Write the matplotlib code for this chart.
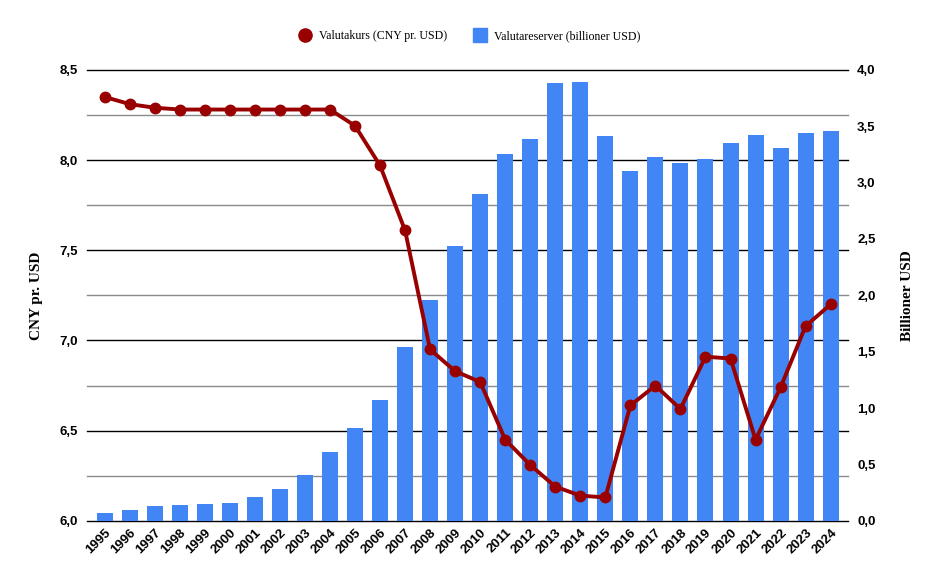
import matplotlib
matplotlib.use("Agg")
import matplotlib.pyplot as plt
from matplotlib.lines import Line2D
from matplotlib.ticker import FuncFormatter

years = [str(y) for y in range(1995, 2025)]
kurs = [8.35, 8.31, 8.29, 8.28, 8.28, 8.28, 8.28, 8.28, 8.28, 8.28,
        8.19, 7.97, 7.61, 6.95, 6.83, 6.77, 6.45, 6.31, 6.19, 6.14,
        6.13, 6.64, 6.75, 6.62, 6.91, 6.90, 6.45, 6.74, 7.08, 7.20]
reserver = [0.07, 0.10, 0.13, 0.14, 0.15, 0.16, 0.21, 0.28, 0.41, 0.61,
            0.82, 1.07, 1.54, 1.96, 2.44, 2.90, 3.25, 3.39, 3.88, 3.89,
            3.41, 3.10, 3.23, 3.17, 3.21, 3.35, 3.42, 3.31, 3.44, 3.46]

bar_col = "#4285F4"
line_col = "#990000"
serif = "Liberation Serif"
sans = "Liberation Sans"

fig = plt.figure(figsize=(9.4, 5.82), dpi=100)
ax_b = fig.add_axes([0.098, 0.105, 0.799, 0.775])
ax_l = ax_b.twinx()

x = list(range(len(years)))

# gridlines (on the back axis so bars cover them)
for k in range(11):
    col = "black" if k % 2 == 0 else "#8a8a8a"
    ax_b.axhline(0.4 * k, xmin=-0.007, xmax=1.007, color=col, lw=1.0,
                 clip_on=False, zorder=0)

ax_b.bar(x, reserver, width=0.64, color=bar_col, zorder=2)
ax_l.plot(x, kurs, color=line_col, lw=2.8, marker="o", markersize=7.5,
          zorder=3)

ax_b.set_xlim(-0.5, len(years) - 0.5)
ax_b.set_ylim(0, 4.0)
ax_l.set_ylim(6.0, 8.5)

comma = FuncFormatter(lambda v, p: f"{v:.1f}".replace(".", ","))

ax_b.yaxis.tick_right()
ax_b.yaxis.set_label_position("right")
ax_b.set_yticks([0, 0.5, 1.0, 1.5, 2.0, 2.5, 3.0, 3.5, 4.0])
ax_b.yaxis.set_major_formatter(comma)
ax_l.yaxis.tick_left()
ax_l.yaxis.set_label_position("left")
ax_l.set_yticks([6.0, 6.5, 7.0, 7.5, 8.0, 8.5])
ax_l.yaxis.set_major_formatter(comma)

ax_b.tick_params(axis="y", length=0, pad=10)
ax_l.tick_params(axis="y", length=0, pad=10)
ax_b.set_xticks(x)
ax_b.set_xticklabels(years, rotation=45, ha="right", rotation_mode="anchor")
ax_b.tick_params(axis="x", length=0, pad=4)

for lab in ax_b.get_xticklabels() + ax_b.get_yticklabels() + ax_l.get_yticklabels():
    lab.set_fontfamily(sans)
    lab.set_fontweight("bold")
    lab.set_fontsize(9.5)

ax_l.set_ylabel("CNY pr. USD", fontfamily=serif, fontweight="bold",
                fontsize=11, labelpad=12)
ax_b.set_ylabel("Billioner USD", fontfamily=serif, fontweight="bold",
                fontsize=11, labelpad=18)

for a in (ax_b, ax_l):
    for s in a.spines.values():
        s.set_visible(False)

handles = [
    Line2D([], [], ls="none", marker="o", markersize=9.5, color=line_col),
    Line2D([], [], ls="none", marker="s", markersize=9.5, color=bar_col),
]
labels = ["Valutakurs (CNY pr. USD)", "Valutareserver (billioner USD)"]
fig.legend(handles, labels, loc="center", bbox_to_anchor=(0.5, 0.938),
           ncol=2, frameon=False, prop={"family": serif, "size": 8.6},
           handlelength=1.0, handletextpad=0.7, columnspacing=2.2)

fig.savefig("out.png", dpi=100)
